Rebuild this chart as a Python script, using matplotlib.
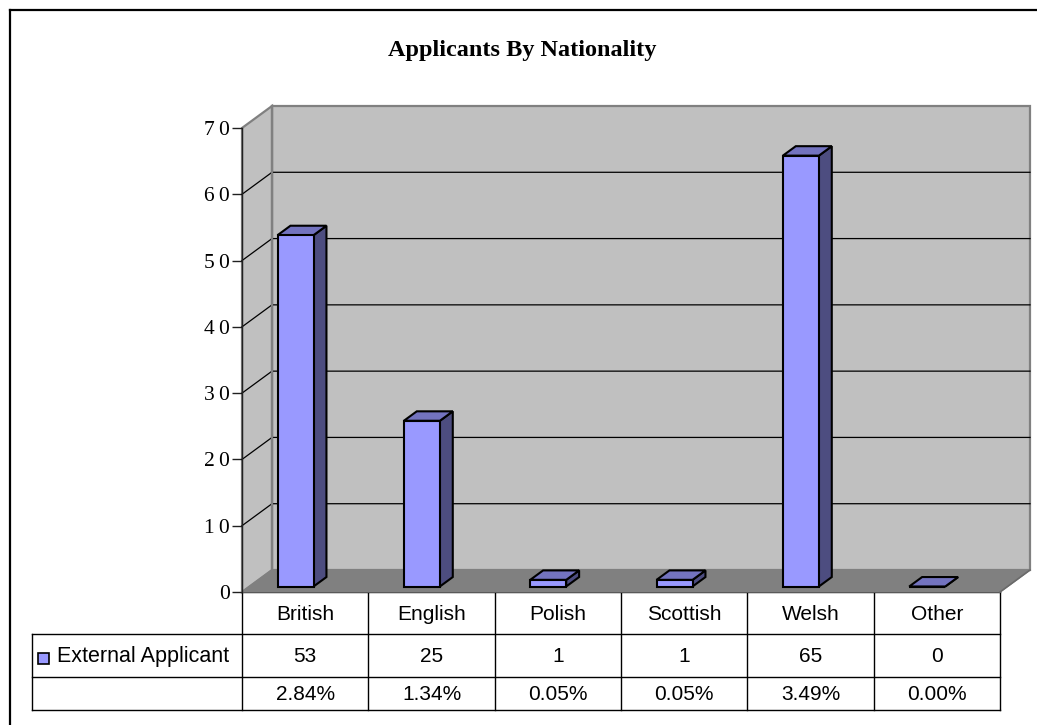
import matplotlib
matplotlib.use("Agg")
import matplotlib.pyplot as plt
from matplotlib.patches import Polygon, Rectangle
from matplotlib.lines import Line2D
from matplotlib.transforms import IdentityTransform

# ---- data ----
categories = ["British", "English", "Polish", "Scottish", "Welsh", "Other"]
applicants = [53, 25, 1, 1, 65, 0]
percentages = ["2.84%", "1.34%", "0.05%", "0.05%", "3.49%", "0.00%"]
series_name = "External Applicant"
title = "Applicants By Nationality"
y_ticks = [0, 10, 20, 30, 40, 50, 60, 70]

# ---- style ----
W, H = 1037, 725
WALL = "#c0c0c0"
FLOOR = "#808080"
EDGE = "#808080"
BAR_FRONT = "#9999ff"
BAR_TOP = "#7373bf"
BAR_SIDE = "#4d4d80"
SANS = "Liberation Sans"
SERIF = "Liberation Serif"

DX, DY = 30.0, 22.0          # depth of the 3-D box in pixels
BAR_OFF, BAR_W = 0.222, 0.285
F0, F1 = 0.25, 0.68          # bar front/back depth fractions

fig = plt.figure(figsize=(W / 100, H / 100), dpi=100)
fig.patch.set_facecolor("white")

# overlay in pixel coordinates (origin top-left) for frame, title and table
ov = fig.add_axes([0, 0, 1, 1])
ov.set_xlim(0, W)
ov.set_ylim(H, 0)
ov.axis("off")

ax = fig.add_axes([242 / W, 1 - 592 / H, 758 / W, 464 / H])
ax.set_xlim(0, len(categories))
ax.set_ylim(0, 70)
ax.patch.set_visible(False)
for s in ("top", "right", "bottom"):
    ax.spines[s].set_visible(False)
ax.spines["left"].set_color("#202020")
ax.spines["left"].set_linewidth(1.0)
ax.spines["left"].set_zorder(6)
ax.set_xticks([])
ax.set_yticks(y_ticks)
ax.set_yticklabels(["\u2009".join(str(v)) for v in y_ticks],
                   fontfamily=SERIF, fontsize=15.5)
ax.tick_params(axis="y", length=7, width=1, pad=2, color="#202020")

ident = IdentityTransform()


def P(x, y, d):
    X, Y = ax.transData.transform((x, y))
    return (X + d * DX, Y + d * DY)


def poly(pts, fc, ec, lw, z):
    ax.add_patch(Polygon(pts, closed=True, facecolor=fc, edgecolor=ec,
                         linewidth=lw, transform=ident, clip_on=False,
                         zorder=z, joinstyle="miter"))


def seg(pts, color, lw, z):
    xs = [p[0] for p in pts]
    ys = [p[1] for p in pts]
    ax.add_line(Line2D(xs, ys, color=color, linewidth=lw, transform=ident,
                       clip_on=False, zorder=z))


n = len(categories)
ymax = 70

# walls and floor
poly([P(0, 0, 1), P(n, 0, 1), P(n, ymax, 1), P(0, ymax, 1)], WALL, EDGE, 1.6, 1)
poly([P(0, 0, 0), P(0, ymax, 0), P(0, ymax, 1), P(0, 0, 1)], WALL, EDGE, 1.6, 1)
poly([P(0, 0, 0), P(n, 0, 0), P(n, 0, 1), P(0, 0, 1)], FLOOR, FLOOR, 1.0, 2)
seg([P(n, 0, 0), P(n, 0, 1)], "#6a6a6a", 1.2, 2)

# gridlines across the side and back walls
for v in y_ticks[1:-1]:
    seg([P(0, v, 0), P(0, v, 1), P(n, v, 1)], "black", 0.9, 3)
seg([P(0, 0, 1), P(0, ymax, 1)], EDGE, 1.6, 3)

# 3-D columns
for i, v in enumerate(applicants):
    x0 = i + BAR_OFF
    x1 = x0 + BAR_W
    front = [P(x0, 0, F0), P(x1, 0, F0), P(x1, v, F0), P(x0, v, F0)]
    side = [P(x1, 0, F0), P(x1, 0, F1), P(x1, v, F1), P(x1, v, F0)]
    top = [P(x0, v, F0), P(x1, v, F0), P(x1, v, F1), P(x0, v, F1)]
    poly(side, BAR_SIDE, "black", 1.5, 4)
    poly(top, BAR_TOP, "black", 1.5, 4)
    poly(front, BAR_FRONT, "black", 1.5, 4)

# ---- frame ----
ov.add_line(Line2D([10, W], [10, 10], color="black", lw=1.6))
ov.add_line(Line2D([10, 10], [10, H], color="black", lw=1.6))

# ---- title ----
ov.text(522, 50, title, fontfamily=SERIF, fontweight="bold", fontsize=17.5,
        ha="center", va="center")

# ---- data table ----
col_x = [ax.transData.transform((i, 0))[0] for i in range(n + 1)]
row_top, row1, row2, row_bot = 592, 634, 677, 710
key_left = 32
lc = "black"
lw = 1.0
for yy in (row1, row2, row_bot):
    ov.add_line(Line2D([key_left, col_x[-1]], [yy, yy], color=lc, lw=lw))
ov.add_line(Line2D([col_x[0], col_x[-1]], [row_top, row_top], color=lc, lw=lw, zorder=5))
for xx in col_x:
    ov.add_line(Line2D([xx, xx], [row_top, row_bot], color=lc, lw=lw))
ov.add_line(Line2D([key_left, key_left], [row1, row_bot], color=lc, lw=lw))

FS = 15
for i in range(n):
    cx = (col_x[i] + col_x[i + 1]) / 2
    ov.text(cx, (row_top + row1) / 2 + 1, categories[i], fontfamily=SANS,
            fontsize=FS, ha="center", va="center")
    ov.text(cx, (row1 + row2) / 2 + 1, str(applicants[i]), fontfamily=SANS,
            fontsize=FS, ha="center", va="center")
    ov.text(cx, (row2 + row_bot) / 2 + 1, percentages[i], fontfamily=SANS,
            fontsize=FS, ha="center", va="center")

ov.add_patch(Rectangle((38, 653), 11, 11, facecolor=BAR_FRONT,
                       edgecolor="black", lw=1.2))
ov.text(57, (row1 + row2) / 2 + 1, series_name, fontfamily=SANS,
        fontsize=15.5, ha="left", va="center")

fig.savefig("out.png", dpi=100)
